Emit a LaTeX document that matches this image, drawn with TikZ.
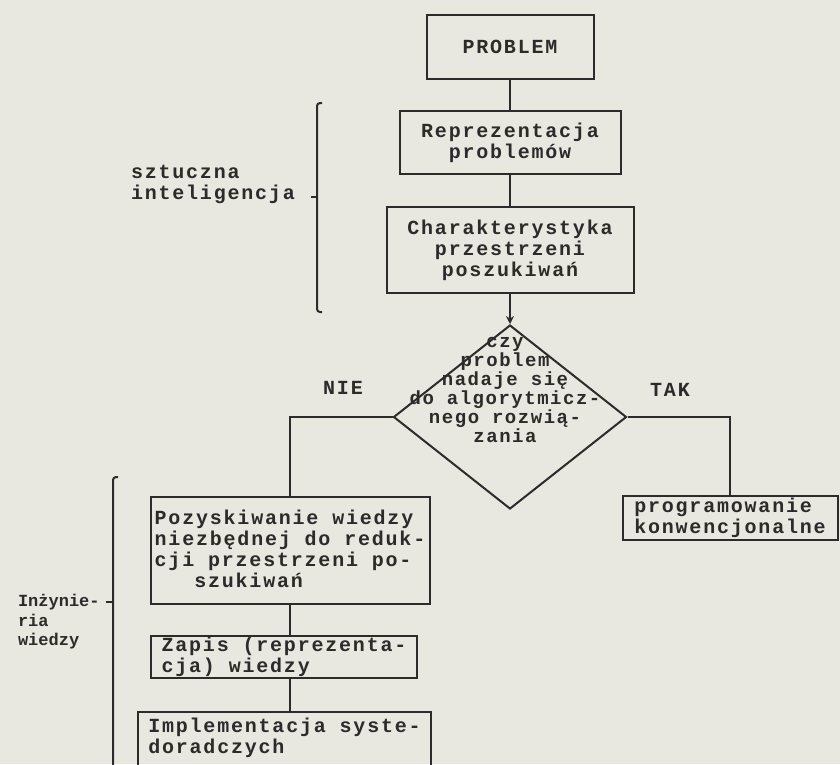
\documentclass[tikz,border=0pt]{standalone}
\usepackage{fontspec}
\newfontfamily\dotfont{Liberation Mono}[LetterSpace=9]
\newfontfamily\qfont{Liberation Mono}[LetterSpace=8]
\newfontfamily\sidefont{Liberation Mono}
\usetikzlibrary{shapes.geometric,arrows.meta}
\definecolor{paper}{HTML}{E8E8E1}
\definecolor{ink}{HTML}{2B2B2B}

\begin{document}
\begin{tikzpicture}[x=1pt,y=-1pt,ink,line width=2pt,
    font=\dotfont\bfseries\fontsize{20}{21}\selectfont]

        \fill[paper] (0,0) rectangle (840,764);
        \useasboundingbox (0,0) rectangle (840,764);
        \clip (0,0) rectangle (840,764);

        \begin{scope}[every node/.style={draw, rectangle, inner sep=0pt}]
          \node[minimum width=167, minimum height=64] (1) at (510,47) {PROBLEM};
          \node[minimum width=221, minimum height=63, align=center] (2) at (510,142.5) {Reprezentacja\\problemów};
          \node[minimum width=247, minimum height=86, align=center] (3) at (510,250) {Charakterystyka\\przestrzeni\\poszukiwań};
          \node[minimum width=215, minimum height=44, align=left] (4) at (730,518) {programowanie\\konwencjonalne};
          \node[minimum width=279, minimum height=107, align=left] (5) at (290,550.5) {Pozyskiwanie wiedzy\\niezbędnej do reduk-\\cji przestrzeni po-\\\phantom{po-}szukiwań};
          \node[minimum width=266, minimum height=42, align=left] (6) at (284,657) {Zapis (reprezenta-\\cja) wiedzy};
          \node[minimum width=293, inner ysep=6pt, anchor=north, align=left] (7) at (284.5,711) {Implementacja syste-\\doradczych\\\mbox{}\\\mbox{}};
        \end{scope}

        \node[draw, diamond, minimum width=233, minimum height=184, inner sep=0pt] (q) at (510,417) {};
        \node[align=center, font=\qfont\bfseries\fontsize{19}{19}\selectfont] (qtext) at (505,390) {czy\\problem\\nadaje się\\do algorytmicz-\\nego rozwią-\\zania};

        \begin{scope}[every node/.style={inner sep=0pt}]
          \node (nie) at (343,388) {NIE};
          \node (tak) at (670,390) {TAK};
          \node[anchor=west, align=left] (ai) at (130,184) {sztuczna\\inteligencja};
          \node[anchor=west, align=left, font=\sidefont\bfseries\fontsize{17}{19.5}\selectfont] (iw) at (17,622) {Inżynie-\\ria\\wiedzy};
        \end{scope}

        \begin{scope}[every edge/.style={draw}]
          \path (1) edge (2);
          \path (2) edge (3);
          \path (3) edge[-{Stealth[length=8pt,width=8pt]}] (q);
          \path (5) edge (5 |- 6.north);
          \path (6.south -| 5) edge (5 |- 7.north);
        \end{scope}
        \draw (q.west) -| (5);
        \draw (q.east) -| (4);

        \draw[rounded corners=3pt] (322,103) -- (317,103) -- (317,312) -- (322,312);
        \draw (317,197) -- (311,197);
        \draw[rounded corners=3pt] (118,477) -- (113,477) -- (113,780);
        \draw (113,602) -- (106,602);

      \end{tikzpicture}
\end{document}
